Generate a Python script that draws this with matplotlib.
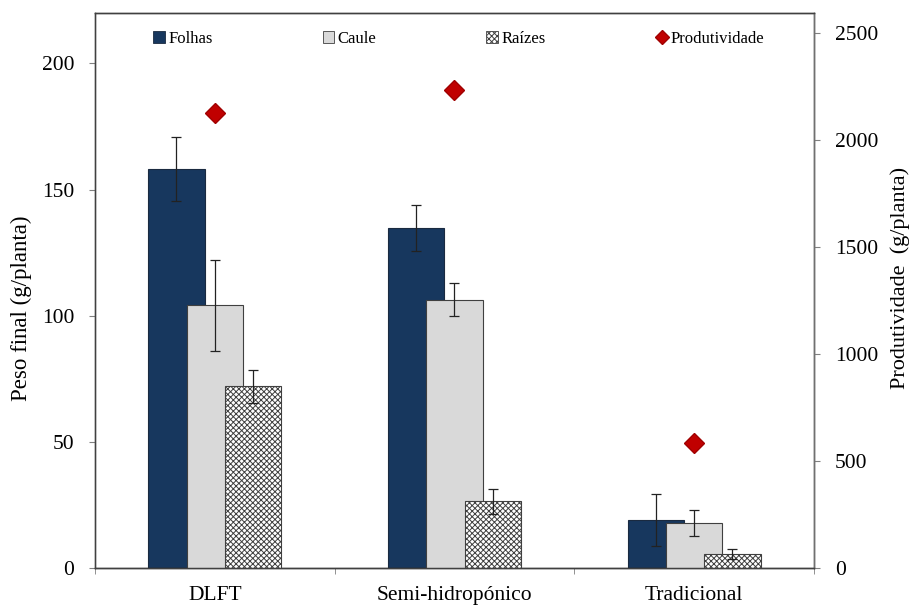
import matplotlib
matplotlib.use('Agg')
import matplotlib.pyplot as plt
from matplotlib.patches import Patch
from matplotlib.lines import Line2D
import numpy as np

plt.rcParams['font.family'] = ['Liberation Serif', 'DejaVu Serif']
plt.rcParams['hatch.linewidth'] = 0.7
plt.rcParams['hatch.color'] = '#505050'

# dry weight per plant (g/planta) with standard deviations, and productivity
sistemas = ['DLFT', 'Semi-hidropónico', 'Tradicional']
folhas = [158.0, 134.8, 19.1]
folhas_err = [12.7, 9.0, 10.3]
caule = [104.2, 106.4, 17.7]
caule_err = [18.0, 6.5, 5.2]
raizes = [72.0, 26.5, 5.7]
raizes_err = [6.5, 5.0, 2.0]
produtividade = [2126, 2234, 585]

x = np.arange(len(sistemas))
largura = 0.234
passo = 0.16

fig = plt.figure(figsize=(9.15, 6.07), dpi=100)
ax = fig.add_axes([0.1038, 0.0643, 0.7858, 0.9143])
ax2 = ax.twinx()

err_kw = dict(ecolor='#222222', elinewidth=0.9, capsize=3.5, capthick=0.9)
ax.bar(x - passo, folhas, largura, yerr=folhas_err, color='#17375E',
       edgecolor='#1a2a40', linewidth=0.8, error_kw=err_kw, zorder=2)
ax.bar(x, caule, largura, yerr=caule_err, color='#D9D9D9',
       edgecolor='#404040', linewidth=0.8, error_kw=err_kw, zorder=3)
ax.bar(x + passo, raizes, largura, yerr=raizes_err, color='white',
       edgecolor='#404040', hatch='xxxxxx', linewidth=0.8, error_kw=err_kw, zorder=4)

ax2.plot(x, produtividade, linestyle='none', marker='D', markersize=10.5,
         color='#C00000', markeredgecolor='#A00000', zorder=5)

ax.set_xlim(-0.5, 2.5)
ax.set_ylim(0, 220)
ax2.set_ylim(0, 2595)
ax.set_yticks([0, 50, 100, 150, 200])
ax2.set_yticks([0, 500, 1000, 1500, 2000, 2500])

ax.set_xticks(x)
ax.set_xticklabels(sistemas)
ax.set_xticks([-0.5, 0.5, 1.5, 2.5], minor=True)
ax.tick_params(axis='x', which='major', length=0, pad=13, labelsize=15.5)
ax.tick_params(axis='x', which='minor', length=4, color='#808080')
ax.tick_params(axis='y', length=4, color='#808080', pad=11, labelsize=15.5)
ax2.tick_params(axis='y', length=4, color='#808080', pad=11, labelsize=15.5)

for a in (ax, ax2):
    for s in a.spines.values():
        s.set_color('#404040')
        s.set_linewidth(1.0)
ax.spines['bottom'].set_color('#202020')
ax2.spines['right'].set_color('#707070')
ax.spines['left'].set_color('#707070')

ax.set_ylabel('Peso final (g/planta)', fontsize=16.5)
ax2.set_ylabel('Produtividade  (g/planta)', fontsize=16)
ax.yaxis.set_label_coords(-0.088, 0.468)
ax2.yaxis.set_label_coords(1.106, 0.5225)

handles = [
    Patch(facecolor='#17375E', edgecolor='#1a2a40', linewidth=0.6),
    Patch(facecolor='#D9D9D9', edgecolor='#404040', linewidth=0.6),
    Patch(facecolor='white', edgecolor='#404040', hatch='xxxxxx', linewidth=0.6),
    Line2D([], [], linestyle='none', marker='D', markersize=7,
           color='#C00000', markeredgecolor='#A00000'),
]
ax.legend(handles, ['Folhas', 'Caule', 'Raízes', 'Produtividade'],
          loc='upper center', bbox_to_anchor=(0.506, 0.995), ncol=4,
          frameon=False, fontsize=12, handlelength=0.7, handleheight=0.7,
          handletextpad=0.2, columnspacing=6.6)

fig.savefig('out.png', dpi=100)
